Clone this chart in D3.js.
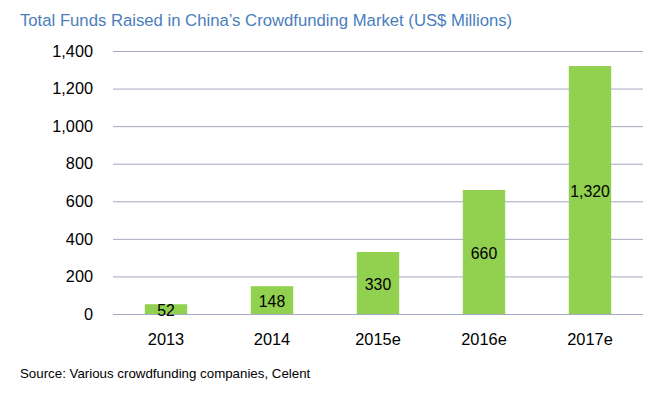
<!DOCTYPE html>
<html><head><meta charset="utf-8">
<script src="https://cdn.jsdelivr.net/npm/d3@7/dist/d3.min.js"></script>
<style>body{margin:0;background:#fff}svg{display:block}text{font-family:"Liberation Sans",Arial,sans-serif}</style>
</head><body><svg id="c" width="663" height="393"></svg>
<script>
const categories = ["2013","2014","2015e","2016e","2017e"];
const values = [52,148,330,660,1320];
const yTicks = [0,200,400,600,800,1000,1200,1400];

const svg = d3.select("#c");
const m = {left:113, right:643, top:51, bottom:314};
const x = d3.scaleBand().domain(categories).range([m.left,m.right]).paddingInner(0.6).paddingOuter(0.3);
const y = d3.scaleLinear().domain([0,1400]).range([m.bottom,m.top]);
const fmt = d3.format(",");

svg.append("text").attr("x",20).attr("y",25.5).attr("fill","#4a7ebb").attr("font-size",16.7)
  .text("Total Funds Raised in China\u2019s Crowdfunding Market (US$ Millions)");

const g = svg.append("g");
g.selectAll("line.grid").data(yTicks).enter().append("line")
  .attr("x1",m.left).attr("x2",m.right).attr("y1",d=>y(d)+0.5).attr("y2",d=>y(d)+0.5)
  .attr("stroke","#a4a8c2").attr("stroke-width",1);

const yAxis = d3.axisLeft(y).tickValues(yTicks).tickFormat(fmt).tickSize(0).tickPadding(20);
const ya = svg.append("g").attr("transform",`translate(${m.left},0)`).call(yAxis);
ya.select(".domain").remove();
ya.selectAll("text").attr("font-size",16.3).attr("fill","#000").attr("font-family","Liberation Sans, Arial, sans-serif");

svg.selectAll("rect.bar").data(values).enter().append("rect")
  .attr("x",(d,i)=>x(categories[i])).attr("width",x.bandwidth())
  .attr("y",d=>y(d)).attr("height",d=>y(0)-y(d)).attr("fill","#92d050");

svg.selectAll("text.lbl").data(values).enter().append("text")
  .attr("x",(d,i)=>x(categories[i])+x.bandwidth()/2)
  .attr("y",d=>(y(d)+y(0))/2).attr("dy","0.45em")
  .attr("text-anchor","middle").attr("font-size",15.8).attr("fill","#000").text(d=>fmt(d));

const xAxis = d3.axisBottom(x).tickSize(0).tickPadding(19);
const xa = svg.append("g").attr("transform",`translate(0,${m.bottom})`).call(xAxis);
xa.select(".domain").remove();
xa.selectAll("text").attr("font-size",16.4).attr("fill","#000").attr("font-family","Liberation Sans, Arial, sans-serif");

svg.append("text").attr("x",20).attr("y",378).attr("font-size",13.3).attr("fill","#000")
  .text("Source: Various crowdfunding companies, Celent");
</script></body></html>
